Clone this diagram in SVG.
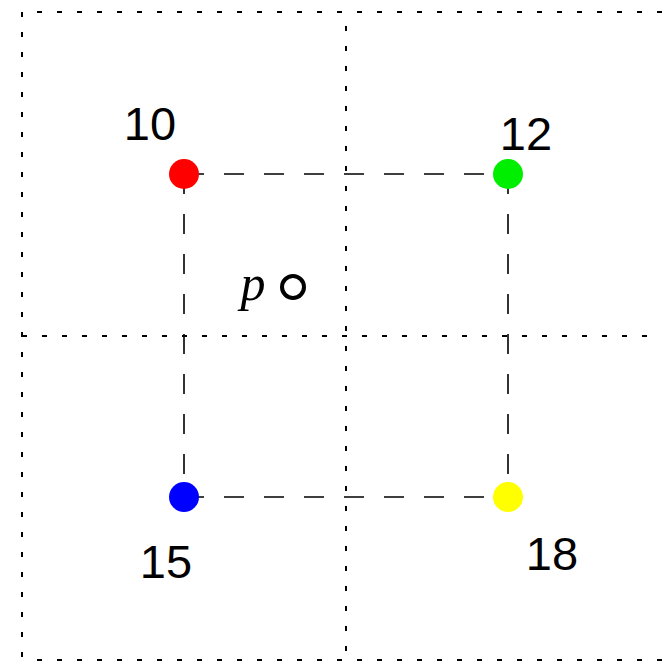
<svg xmlns="http://www.w3.org/2000/svg" width="662" height="661" viewBox="0 0 662 661">
<style>
.grid{stroke:#000;stroke-width:2;stroke-dasharray:5 15;fill:none}
.edge{stroke:#000;stroke-width:1.6;stroke-dasharray:20 20;fill:none}
.lbl{font-family:"Liberation Sans",Arial,sans-serif;font-size:47px;fill:#000;text-anchor:middle}
</style>
<rect width="662" height="661" fill="#fff"/>
<g id="grid">
<line class="grid" x1="22" y1="12" x2="662" y2="12" stroke-dashoffset="5"/>
<line class="grid" x1="22" y1="336" x2="662" y2="336" stroke-dashoffset="0"/>
<line class="grid" x1="22" y1="660" x2="662" y2="660" stroke-dashoffset="5"/>
<line class="grid" x1="22" y1="12" x2="22" y2="661" stroke-dashoffset="20"/>
<line class="grid" x1="346" y1="12" x2="346" y2="661" stroke-dashoffset="6"/>
</g>
<g id="connectors">
<line class="edge" x1="184" y1="174" x2="508" y2="174"/>
<line class="edge" x1="184" y1="174" x2="184" y2="497"/>
<line class="edge" x1="508" y1="174" x2="508" y2="497"/>
<line class="edge" x1="184" y1="497" x2="508" y2="497"/>
</g>
<g id="node10"><circle cx="184" cy="174" r="15" fill="#ff0000"/><text class="lbl" x="150" y="140">10</text></g>
<g id="node12"><circle cx="508" cy="174" r="15" fill="#00ee00"/><text class="lbl" x="526" y="150">12</text></g>
<g id="node15"><circle cx="184" cy="497" r="15" fill="#0000ff"/><text class="lbl" x="166" y="578">15</text></g>
<g id="node18"><circle cx="508" cy="497" r="15" fill="#ffff00"/><text class="lbl" x="552" y="570">18</text></g>
<g id="nodeP"><circle cx="293" cy="287" r="11" fill="none" stroke="#000" stroke-width="4"/><text x="253" y="300" font-family="'Liberation Serif','DejaVu Serif',serif" font-style="italic" font-size="50" text-anchor="middle">p</text></g>
</svg>
